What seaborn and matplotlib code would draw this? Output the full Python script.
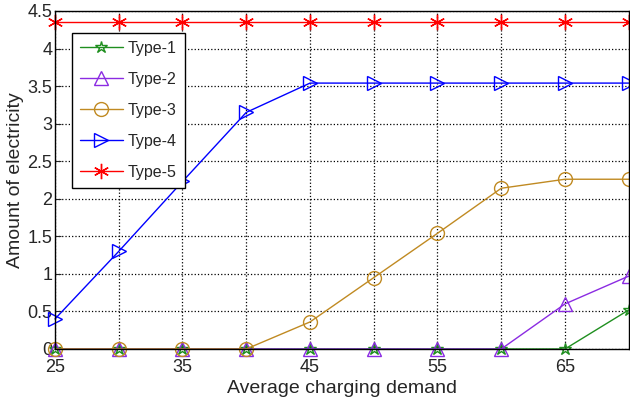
import numpy as np
import pandas as pd
import seaborn as sns
import matplotlib.pyplot as plt

demand = [25, 30, 35, 40, 45, 50, 55, 60, 65, 70]
type1 = [0, 0, 0, 0, 0, 0, 0, 0, 0, 0.52]
type2 = [0, 0, 0, 0, 0, 0, 0, 0, 0.60, 0.97]
type3 = [0, 0, 0, 0, 0.36, 0.95, 1.54, 2.14, 2.26, 2.26]
type4 = [0.40, 1.30, 2.23, 3.15, 3.54, 3.54, 3.54, 3.54, 3.54, 3.54]
type5 = [4.36] * 10

sns.set_style("ticks")
plt.rcParams['font.family'] = ['Liberation Sans', 'DejaVu Sans']

fig = plt.figure(figsize=(6.3, 4.01), dpi=100)
ax = fig.add_axes([0.0873, 0.1297, 0.9107, 0.8429])

series = [
    ("Type-1", type1, "#1f8f1f", "*", 9),
    ("Type-2", type2, "#8b2be2", "^", 10),
    ("Type-3", type3, "#c08a22", "o", 10),
    ("Type-4", type4, "#0000ff", ">", 10),
    ("Type-5", type5, "#ff0000", (6, 2, 0), 11),
]
for name, vals, col, mk, ms in series:
    sns.lineplot(x=demand, y=vals, ax=ax, color=col, marker=mk, markersize=ms,
                 markerfacecolor="none", markeredgecolor=col, markeredgewidth=1.0,
                 linewidth=1.0, label=name, clip_on=False)

ax.set_xlim(25, 70)
ax.set_ylim(0, 4.5)
ax.set_xticks(np.arange(25, 70, 5))
ax.set_xticklabels(["25", "", "35", "", "45", "", "55", "", "65"])
ax.set_yticks(np.arange(0, 4.51, 0.5))
ax.set_yticklabels(["0", "0.5", "1", "1.5", "2", "2.5", "3", "3.5", "4", "4.5"])
ax.grid(True, color="black", linestyle=":", linewidth=0.9)
ax.tick_params(direction="in", labelsize=13, length=4, pad=2)
ax.tick_params(axis="x", pad=7)
for s in ax.spines.values():
    s.set_visible(True)
    s.set_color("black")
    s.set_linewidth(1.0)

ax.set_xlabel("Average charging demand", fontsize=14, labelpad=3)
ax.set_ylabel("Amount of electricity", fontsize=14, labelpad=2)

leg = ax.legend(loc="upper left", bbox_to_anchor=(0.03, 0.935), borderaxespad=0,
                fontsize=11.5, fancybox=False, framealpha=1, edgecolor="black",
                handlelength=2.65, handletextpad=0.35, labelspacing=1.0, borderpad=0.5)
leg.get_frame().set_linewidth(1.0)

fig.savefig("out.png", dpi=100)
